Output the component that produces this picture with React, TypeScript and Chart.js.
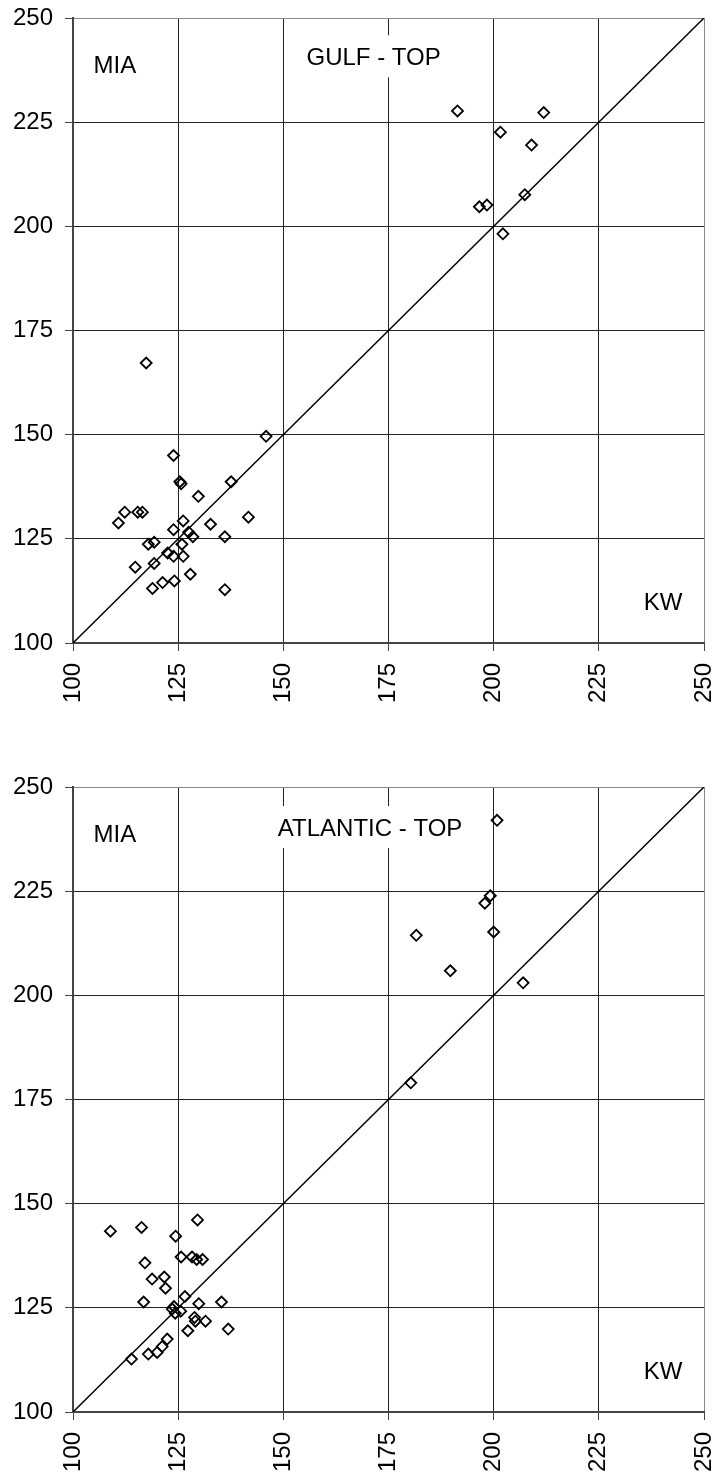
import React, { useEffect, useRef } from "react";
import { Chart, registerables } from "chart.js";

Chart.register(...registerables);

// ---------- data ----------
const axisTicks = [100, 125, 150, 175, 200, 225, 250];
const diagonalLine = [100, 250];

const gulfKW = [
  145.9, 123.9, 125.4, 125.7, 129.8, 137.6, 112.3, 115.4, 116.5, 110.8,
  141.7, 126.2, 132.7, 123.9, 127.5, 128.5, 136.1, 117.9, 119.3, 125.9,
  122.5, 123.9, 126.2, 119.3, 114.8, 127.9, 121.3, 124.1, 118.9, 136.1,
  117.4, 191.4, 211.9, 201.6, 209.0, 207.4, 196.6, 198.4, 202.2,
];
const gulfMIA = [
  149.6, 145.0, 138.7, 138.2, 135.2, 138.7, 131.4, 131.4, 131.4, 128.8,
  130.2, 129.3, 128.5, 127.2, 126.6, 125.5, 125.5, 123.7, 124.2, 123.7,
  121.6, 120.8, 120.8, 119.1, 118.2, 116.5, 114.5, 114.9, 113.1, 112.8,
  167.2, 227.7, 227.3, 222.6, 219.5, 207.6, 204.7, 205.1, 198.2,
];

const atlanticKW = [
  108.9, 116.3, 129.6, 124.4, 117.1, 125.7, 128.3, 129.4, 130.8, 118.8,
  121.7, 122.0, 126.6, 116.8, 135.3, 129.9, 124.0, 123.6, 124.3, 125.6,
  128.9, 129.1, 131.5, 127.3, 136.9, 122.4, 121.2, 120.0, 117.9, 113.9,
  200.8, 199.2, 197.9, 200.0, 181.6, 189.7, 207.0, 180.3,
];
const atlanticMIA = [
  143.4, 144.3, 146.1, 142.2, 135.8, 137.2, 137.2, 136.6, 136.6, 131.9,
  132.4, 129.7, 127.7, 126.4, 126.4, 126.0, 125.3, 124.7, 123.7, 124.2,
  122.7, 121.8, 121.8, 119.5, 119.9, 117.5, 115.7, 114.3, 113.9, 112.7,
  242.0, 223.9, 222.1, 215.2, 214.4, 205.9, 203.0, 179.0,
];

const FONT = "'Liberation Sans', Arial, sans-serif";

type Label = { text: string; x: number; y: number; bg: boolean };

const labelPlugin = {
  id: "panelLabels",
  beforeDatasetsDraw(chart: any, _args: any, opts: any) {
    const labels: Label[] = opts.labels || [];
    const ctx = chart.ctx;
    const xs = chart.scales.x;
    const ys = chart.scales.y;
    ctx.save();
    ctx.font = `24px ${FONT}`;
    ctx.textAlign = "left";
    ctx.textBaseline = "alphabetic";
    for (const l of labels) {
      const px = xs.getPixelForValue(l.x);
      const py = ys.getPixelForValue(l.y);
      const w = ctx.measureText(l.text).width;
      if (l.bg) {
        ctx.fillStyle = "#fff";
        ctx.fillRect(px - 6, py - 21, w + 12, 42);
      }
      ctx.fillStyle = "#000";
      ctx.fillText(l.text, px, py + 8.6);
    }
    ctx.restore();
  },
};

function zeroPad(s: any) {
  s.paddingTop = 0;
  s.paddingBottom = 0;
  s.paddingLeft = 0;
  s.paddingRight = 0;
}

function ScatterPanel(props: {
  xs: number[];
  ys: number[];
  title: string;
  titleX: number;
  titleY: number;
  width: number;
  height: number;
  padTop: number;
  xAxisHeight: number;
}) {
  const ref = useRef<HTMLCanvasElement | null>(null);
  useEffect(() => {
    if (!ref.current) return;
    const points = props.xs.map((x, i) => ({ x, y: props.ys[i] }));
    const diag = diagonalLine.map((v) => ({ x: v, y: v }));
    const gridColor = (c: any) =>
      c.tick && c.tick.value === 250 ? "#888" : "#222";
    const tickFont = { family: FONT, size: 24 };
    const chart = new Chart(ref.current, {
      type: "scatter",
      data: {
        datasets: [
          {
            data: points,
            pointStyle: "rectRot",
            pointRadius: 5.5,
            pointBorderWidth: 1.8,
            pointBorderColor: "#000",
            pointBackgroundColor: "rgba(0,0,0,0)",
            showLine: false,
          },
          {
            data: diag,
            type: "line",
            showLine: true,
            borderColor: "#000",
            borderWidth: 1.5,
            pointRadius: 0,
            fill: false,
          } as any,
        ],
      },
      plugins: [labelPlugin],
      options: {
        responsive: false,
        animation: false,
        events: [],
        layout: { padding: { top: props.padTop, right: 14, left: 0, bottom: 0 } },
        plugins: {
          legend: { display: false },
          tooltip: { enabled: false },
          panelLabels: {
            labels: [
              { text: "MIA", x: 104.9, y: 238.8, bg: false },
              { text: props.title, x: props.titleX, y: props.titleY, bg: true },
              { text: "KW", x: 235.7, y: 110, bg: false },
            ],
          },
        } as any,
        scales: {
          x: {
            type: "linear",
            min: 100,
            max: 250,
            afterBuildTicks: (s: any) => {
              s.ticks = axisTicks.map((v) => ({ value: v }));
            },
            afterFit: (s: any) => {
              s.height = props.xAxisHeight;
              zeroPad(s);
            },
            grid: { color: gridColor, lineWidth: 1, tickLength: 8, tickColor: "#444" },
            border: { display: true, color: "#444", width: 2 },
            ticks: {
              font: tickFont,
              color: "#000",
              minRotation: 90,
              maxRotation: 90,
              padding: 12,
              autoSkip: false,
            },
          },
          y: {
            type: "linear",
            min: 100,
            max: 250,
            afterBuildTicks: (s: any) => {
              s.ticks = axisTicks.map((v) => ({ value: v }));
            },
            afterFit: (s: any) => {
              s.width = 73;
              zeroPad(s);
            },
            grid: { color: gridColor, lineWidth: 1, tickLength: 8, tickColor: "#444" },
            border: { display: true, color: "#444", width: 2 },
            ticks: { font: tickFont, color: "#000", padding: 12, autoSkip: false },
          },
        },
      } as any,
    });
    return () => chart.destroy();
  }, []);
  return (
    <canvas
      ref={ref}
      width={props.width}
      height={props.height}
      style={{ display: "block", width: props.width, height: props.height }}
    />
  );
}

export default function App() {
  useEffect(() => {
    document.body.style.margin = "0";
    document.body.style.background = "#fff";
  }, []);
  return (
    <div style={{ width: 718, background: "#fff" }}>
      <ScatterPanel
        xs={gulfKW}
        ys={gulfMIA}
        title="GULF - TOP"
        titleX={155.5}
        titleY={240.8}
        width={718}
        height={768}
        padTop={18}
        xAxisHeight={125}
      />
      <ScatterPanel
        xs={atlanticKW}
        ys={atlanticMIA}
        title="ATLANTIC - TOP"
        titleX={148.7}
        titleY={240.4}
        width={718}
        height={711}
        padTop={19}
        xAxisHeight={67}
      />
    </div>
  );
}
